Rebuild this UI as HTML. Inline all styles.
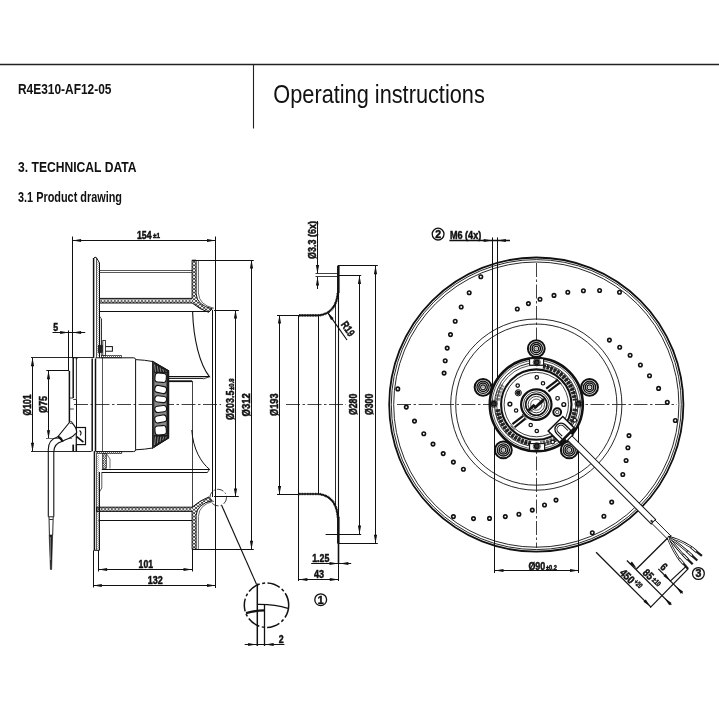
<!DOCTYPE html>
<html><head><meta charset="utf-8"><title>Operating instructions</title>
<style>
html,body{margin:0;padding:0;background:#fff;}
body{width:719px;height:719px;overflow:hidden;font-family:"Liberation Sans",sans-serif;}
svg{display:block;}
svg text{font-family:"Liberation Sans",sans-serif;fill:#111;}
svg{will-change:transform;transform:translateZ(0);}
</style></head><body>
<svg width="719" height="719" viewBox="0 0 719 719">
<defs>
<pattern id="hx" width="3.4" height="4.6" patternUnits="userSpaceOnUse" patternTransform="translate(99.5,298.4)">
<path d="M0,0 L3.4,4.6 M3.4,0 L0,4.6" stroke="#111" stroke-width="0.75"/>
</pattern>
<pattern id="hx2" width="3.4" height="4.1" patternUnits="userSpaceOnUse" patternTransform="translate(96.6,507.2)">
<path d="M0,0 L3.4,4.1 M3.4,0 L0,4.1" stroke="#111" stroke-width="0.75"/>
</pattern>
<pattern id="hv" width="4" height="3.4" patternUnits="userSpaceOnUse" patternTransform="translate(192.1,260.2)">
<path d="M0,0 L4,3.4 M4,0 L0,3.4" stroke="#111" stroke-width="0.75"/>
</pattern>
<pattern id="hv2" width="4" height="3.4" patternUnits="userSpaceOnUse" patternTransform="translate(192.1,511.4)">
<path d="M0,0 L4,3.4 M4,0 L0,3.4" stroke="#111" stroke-width="0.75"/>
</pattern>
<pattern id="hs" width="2.4" height="2.4" patternUnits="userSpaceOnUse">
<path d="M0,0 L2.4,2.4 M2.4,0 L0,2.4" stroke="#111" stroke-width="0.6"/>
</pattern>
<pattern id="hd" width="2" height="2" patternUnits="userSpaceOnUse">
<path d="M0,2 L2,0" stroke="#111" stroke-width="0.6"/>
</pattern>
</defs>
<rect width="719" height="719" fill="#fff"/>
<line x1="0" y1="64.5" x2="719" y2="64.5" stroke="#222" stroke-width="1.3" />
<line x1="253.5" y1="64.6" x2="253.5" y2="128.5" stroke="#222" stroke-width="1.1" />
<text transform="translate(18,93.8)" font-size="14" font-weight="bold" text-anchor="start" textLength="93.5" lengthAdjust="spacingAndGlyphs" >R4E310-AF12-05</text>
<text transform="translate(273.3,103)" font-size="26.5" font-weight="normal" text-anchor="start" textLength="211.5" lengthAdjust="spacingAndGlyphs" >Operating instructions</text>
<text transform="translate(18,172.1)" font-size="15" font-weight="bold" text-anchor="start" textLength="118.5" lengthAdjust="spacingAndGlyphs" >3. TECHNICAL DATA</text>
<text transform="translate(18,202.1)" font-size="13.8" font-weight="bold" text-anchor="start" textLength="104" lengthAdjust="spacingAndGlyphs" >3.1 Product drawing</text>
<line x1="72.5" y1="236.5" x2="72.5" y2="358" stroke="#111" stroke-width="1.0" />
<line x1="215.5" y1="236.5" x2="215.5" y2="588" stroke="#111" stroke-width="1.0" />
<line x1="72.6" y1="240.5" x2="215.5" y2="240.5" stroke="#111" stroke-width="1.0" />
<polygon points="72.6,240.5 81.1,238.9 81.1,242.1" fill="#111"/>
<polygon points="215.5,240.5 207,242.1 207,238.9" fill="#111"/>
<text transform="translate(136.9,238.5)" font-size="11" font-weight="bold" text-anchor="start" textLength="14.6" lengthAdjust="spacingAndGlyphs" stroke="#111" stroke-width="0.5" >154</text>
<text transform="translate(153,238.4)" font-size="7.5" font-weight="bold" text-anchor="start" textLength="7" lengthAdjust="spacingAndGlyphs" stroke="#111" stroke-width="0.5" >±1</text>
<line x1="52.5" y1="332.5" x2="85.2" y2="332.5" stroke="#111" stroke-width="1.0" />
<line x1="68.5" y1="330.4" x2="68.5" y2="371" stroke="#111" stroke-width="1.0" />
<polygon points="68.6,332.5 60.1,334.1 60.1,330.9" fill="#111"/>
<polygon points="72.6,332.5 81.1,330.9 81.1,334.1" fill="#111"/>
<text transform="translate(53.3,331.3)" font-size="11" font-weight="bold" text-anchor="start" textLength="4.9" lengthAdjust="spacingAndGlyphs" stroke="#111" stroke-width="0.5" >5</text>
<line x1="31" y1="357.5" x2="93.5" y2="357.5" stroke="#111" stroke-width="0.9" />
<line x1="31" y1="451.5" x2="91.5" y2="451.5" stroke="#111" stroke-width="0.9" />
<line x1="32.5" y1="357.8" x2="32.5" y2="451.2" stroke="#111" stroke-width="1.0" />
<polygon points="32.5,357.8 34.1,366.3 30.9,366.3" fill="#111"/>
<polygon points="32.5,451.2 30.9,442.7 34.1,442.7" fill="#111"/>
<text transform="translate(30.9,415.5) rotate(-90)" font-size="11" font-weight="bold" text-anchor="start" textLength="21" lengthAdjust="spacingAndGlyphs" stroke="#111" stroke-width="0.5" >Ø101</text>
<line x1="46.3" y1="370.5" x2="68.6" y2="370.5" stroke="#111" stroke-width="1.0" />
<line x1="46.3" y1="438.5" x2="57.9" y2="438.5" stroke="#111" stroke-width="1.0" />
<line x1="48.5" y1="370.8" x2="48.5" y2="438.8" stroke="#111" stroke-width="1.0" />
<polygon points="48.5,370.8 50.1,379.3 46.9,379.3" fill="#111"/>
<polygon points="48.5,438.8 46.9,430.3 50.1,430.3" fill="#111"/>
<text transform="translate(46.8,413.1) rotate(-90)" font-size="11" font-weight="bold" text-anchor="start" textLength="17.3" lengthAdjust="spacingAndGlyphs" stroke="#111" stroke-width="0.5" >Ø75</text>
<line x1="74" y1="404.5" x2="221" y2="404.5" stroke="#111" stroke-width="0.8" stroke-dasharray="14 2.5 2.5 2.5"/>
<path d="M93.75,357.8 L93.75,258.2 L95,257.2 L96.4,257.6 L99.5,263 L99.5,357" stroke="#111" stroke-width="1.0" fill="none" />
<line x1="93.5" y1="258" x2="93.5" y2="357.8" stroke="#111" stroke-width="1.3" />
<line x1="96.5" y1="258" x2="96.5" y2="357.8" stroke="#111" stroke-width="0.7" />
<line x1="99.5" y1="263" x2="99.5" y2="357.8" stroke="#111" stroke-width="0.9" />
<path d="M99.5,316 L101.3,318.8 L101.3,355.5" stroke="#111" stroke-width="0.7" fill="none" />
<rect x="96.6" y="262" width="2.6" height="94" fill="url(#hd)" opacity="0.55"/>
<path d="M94.3,451.2 L94.3,550.3 L99.3,550.3 L99.3,472" stroke="#111" stroke-width="1.0" fill="none" />
<line x1="94.5" y1="451.2" x2="94.5" y2="550.3" stroke="#111" stroke-width="1.3" />
<line x1="96.5" y1="453" x2="96.5" y2="550" stroke="#111" stroke-width="0.7" />
<line x1="99.5" y1="472" x2="99.5" y2="550.3" stroke="#111" stroke-width="0.9" />
<rect x="97" y="455" width="2.2" height="94" fill="url(#hd)" opacity="0.55"/>
<path d="M101.8,472.2 L101.8,488 L99.4,492" stroke="#111" stroke-width="0.7" fill="none" />
<line x1="99.5" y1="270.5" x2="192" y2="270.5" stroke="#111" stroke-width="0.7" />
<line x1="99.5" y1="272.5" x2="192" y2="272.5" stroke="#111" stroke-width="0.7" />
<line x1="99.5" y1="311.5" x2="208.6" y2="311.5" stroke="#111" stroke-width="1.1" />
<path d="M99.5,298.4 L192.1,298.4 L192.1,303 L99.5,303 Z" fill="url(#hx)" stroke="none"/>
<path d="M192.1,303 L192.1,260.2 L196.1,260.2 L196.1,294 Q197,305.5 212.3,308.8 L208.6,312.3 Q200,309.5 192.1,303 Z" fill="url(#hv)" stroke="none"/>
<path d="M99.5,298.4 L192.1,298.4 L192.1,260.2 L196.1,260.2 L196.1,294 Q197,305.5 212.3,308.8 L208.6,312.3 Q200,309.5 192.1,303 L99.5,303 Z" fill="none" stroke="#111" stroke-width="1.0"/>
<path d="M198.4,260.5 L198.4,293 Q199,305 214,308.3" stroke="#444" stroke-width="0.8" fill="none" />
<path d="M96.6,507.2 L192.1,507.2 L192.1,511.4 L96.6,511.4 Z" fill="url(#hx2)" stroke="none"/>
<path d="M192.1,507.2 Q200,500.4 208.6,497.1 L212.3,500.6 Q197,503.9 196.1,515.4 L196.1,549.3 L192.1,549.3 Z" fill="url(#hv2)" stroke="none"/>
<path d="M96.6,507.2 L192.1,507.2 Q200,500.4 208.6,497.1 L212.3,500.6 Q197,503.9 196.1,515.4 L196.1,549.3 L192.1,549.3 L192.1,511.4 L96.6,511.4 Z" fill="none" stroke="#111" stroke-width="1.0"/>
<path d="M198.4,549 L198.4,516.4 Q199,504.4 214,501.2" stroke="#444" stroke-width="0.8" fill="none" />
<line x1="98.6" y1="520.5" x2="192" y2="520.5" stroke="#111" stroke-width="1.0" />
<line x1="192.5" y1="381" x2="192.5" y2="507.3" stroke="#111" stroke-width="0.8" />
<line x1="192.1" y1="260.5" x2="253.8" y2="260.5" stroke="#111" stroke-width="1.0" />
<line x1="192.1" y1="549.5" x2="253.8" y2="549.5" stroke="#111" stroke-width="1.0" />
<line x1="251.5" y1="260" x2="251.5" y2="549.3" stroke="#111" stroke-width="1.0" />
<polygon points="251.5,260 253.1,268.5 249.9,268.5" fill="#111"/>
<polygon points="251.5,549.3 249.9,540.8 253.1,540.8" fill="#111"/>
<text transform="translate(249.7,416.5) rotate(-90)" font-size="11" font-weight="bold" text-anchor="start" textLength="23.3" lengthAdjust="spacingAndGlyphs" stroke="#111" stroke-width="0.5" >Ø312</text>
<line x1="214" y1="310.5" x2="238.8" y2="310.5" stroke="#111" stroke-width="1.0" />
<line x1="214" y1="496.5" x2="238.8" y2="496.5" stroke="#111" stroke-width="1.0" />
<line x1="235.5" y1="310" x2="235.5" y2="497" stroke="#111" stroke-width="1.0" />
<polygon points="235.5,310 237.1,318.5 233.9,318.5" fill="#111"/>
<polygon points="235.5,497 233.9,488.5 237.1,488.5" fill="#111"/>
<text transform="translate(233.7,420) rotate(-90)" font-size="11" font-weight="bold" text-anchor="start" textLength="29.4" lengthAdjust="spacingAndGlyphs" stroke="#111" stroke-width="0.5" >Ø203.5</text>
<text transform="translate(233.6,389.9) rotate(-90)" font-size="7.5" font-weight="bold" text-anchor="start" textLength="11.4" lengthAdjust="spacingAndGlyphs" stroke="#111" stroke-width="0.5" >±0.8</text>
<line x1="212.5" y1="310" x2="212.5" y2="497" stroke="#111" stroke-width="1.0" />
<path d="M192.6,311.8 C193.5,340 200,365 209.4,376.6 L169,376.6" stroke="#111" stroke-width="1.1" fill="none" />
<line x1="169" y1="378.5" x2="203.4" y2="378.5" stroke="#111" stroke-width="0.9" />
<path d="M209.4,376.7 L203.4,379" stroke="#111" stroke-width="0.8" fill="none" />
<line x1="169" y1="381.2" x2="192.1" y2="381.2" stroke="#111" stroke-width="1.8" />
<path d="M191.8,430 C193,449 201,462.5 209.6,469.4" stroke="#111" stroke-width="1.0" fill="none" />
<path d="M209.6,469.5 L101.8,469.5" stroke="#111" stroke-width="1.1" fill="none" />
<line x1="101.8" y1="472.5" x2="207.6" y2="472.5" stroke="#111" stroke-width="1.0" />
<path d="M209.6,469.3 L207.5,472.2" stroke="#111" stroke-width="0.8" fill="none" />
<line x1="98.5" y1="550.3" x2="98.5" y2="571.5" stroke="#111" stroke-width="1.0" />
<line x1="192.5" y1="549.3" x2="192.5" y2="571.5" stroke="#111" stroke-width="1.0" />
<line x1="93.5" y1="550.3" x2="93.5" y2="587.5" stroke="#111" stroke-width="1.0" />
<line x1="98.6" y1="569.5" x2="192" y2="569.5" stroke="#111" stroke-width="1.0" />
<polygon points="98.6,569.5 107.1,567.9 107.1,571.1" fill="#111"/>
<polygon points="192,569.5 183.5,571.1 183.5,567.9" fill="#111"/>
<line x1="93.3" y1="585.5" x2="215.5" y2="585.5" stroke="#111" stroke-width="1.0" />
<polygon points="93.3,585.5 101.8,583.9 101.8,587.1" fill="#111"/>
<polygon points="215.5,585.5 207,587.1 207,583.9" fill="#111"/>
<text transform="translate(138.6,567.6)" font-size="11" font-weight="bold" text-anchor="start" textLength="14.4" lengthAdjust="spacingAndGlyphs" stroke="#111" stroke-width="0.5" >101</text>
<text transform="translate(147.8,583.6)" font-size="11" font-weight="bold" text-anchor="start" textLength="15" lengthAdjust="spacingAndGlyphs" stroke="#111" stroke-width="0.5" >132</text>
<path d="M72.6,357.8 L76.4,357.8 L76.4,399.3" stroke="#111" stroke-width="0.9" fill="none" />
<line x1="73.2" y1="357.8" x2="73.2" y2="398" stroke="#111" stroke-width="1.5" />
<line x1="69.4" y1="370.8" x2="69.4" y2="422.5" stroke="#111" stroke-width="1.5" />
<path d="M69.3,398 L73.2,398 M69.3,409 L73.8,409" stroke="#111" stroke-width="0.8" fill="none" />
<path d="M76.4,359.6 Q76.4,357.8 78,357.8" stroke="#111" stroke-width="0.8" fill="none" />
<line x1="76.4" y1="399.5" x2="73.2" y2="399.5" stroke="#111" stroke-width="0.8" />
<line x1="92.2" y1="358.5" x2="92.2" y2="451.2" stroke="#111" stroke-width="1.5" />
<line x1="95.5" y1="358.5" x2="95.5" y2="451.2" stroke="#111" stroke-width="1.5" />
<line x1="76.5" y1="444.5" x2="76.5" y2="451.2" stroke="#111" stroke-width="0.9" />
<path d="M95.5,357.8 L133.5,357.8 Q135.6,357.8 135.6,359.5 L135.6,449.8 Q135.6,451.6 133.5,451.6 L95.5,451.6" stroke="#111" stroke-width="1.0" fill="none" />
<line x1="102.5" y1="357.8" x2="102.5" y2="451.6" stroke="#111" stroke-width="0.7" />
<path d="M135.5,359.6 Q145,360 152.6,361.5 L168.6,370.7 L168.6,438 L152.6,448 Q145,449.4 135.5,449.8" stroke="#111" stroke-width="1.0" fill="none" />
<path d="M152.6,361.5 L168.6,370.7 L168.6,438 L152.6,448 Z" fill="#8a8a8a" stroke="#111" stroke-width="1.1"/>
<path d="M152.6,361.5 L168.6,370.7 L168.6,373.2 L152.6,373.2 Z" fill="#1c1c1c"/>
<path d="M152.6,448 L168.6,438 L168.6,435 L152.6,435 Z" fill="#1c1c1c"/>
<rect x="152.6" y="361.5" width="1.8" height="86.5" fill="#333"/>
<rect x="166.5" y="370.7" width="2.1" height="67.3" fill="#1c1c1c"/>
<rect x="155" y="373.2" width="11.3" height="9.0" rx="3" ry="3" fill="#fff" stroke="#111" stroke-width="1.1" transform="rotate(5 160.65 377.7)"/>
<rect x="154.8" y="386" width="11.7" height="7.0" rx="3" ry="3" fill="#fff" stroke="#111" stroke-width="1.1" transform="rotate(11 160.65 389.5)"/>
<rect x="154.8" y="396.1" width="11.8" height="6.2" rx="3" ry="3" fill="#fff" stroke="#111" stroke-width="1.1" transform="rotate(7 160.7 399.2)"/>
<rect x="154.8" y="405.9" width="11.8" height="6.2" rx="3" ry="3" fill="#fff" stroke="#111" stroke-width="1.1" transform="rotate(-7 160.7 409.0)"/>
<rect x="154.8" y="415.4" width="11.7" height="7.0" rx="3" ry="3" fill="#fff" stroke="#111" stroke-width="1.1" transform="rotate(-11 160.65 418.9)"/>
<rect x="155" y="425.8" width="11.3" height="9.0" rx="3" ry="3" fill="#fff" stroke="#111" stroke-width="1.1" transform="rotate(-5 160.65 430.3)"/>
<line x1="154.6" y1="364.4" x2="155.5" y2="371.8" stroke="#e8e8e8" stroke-width="0.55" />
<line x1="154.6" y1="445" x2="155.5" y2="436.6" stroke="#e8e8e8" stroke-width="0.55" />
<line x1="157.3" y1="365.95" x2="158.2" y2="371.8" stroke="#e8e8e8" stroke-width="0.55" />
<line x1="157.3" y1="443.4" x2="158.2" y2="436.6" stroke="#e8e8e8" stroke-width="0.55" />
<line x1="160" y1="367.5" x2="160.9" y2="371.8" stroke="#e8e8e8" stroke-width="0.55" />
<line x1="160" y1="441.8" x2="160.9" y2="436.6" stroke="#e8e8e8" stroke-width="0.55" />
<line x1="162.7" y1="369.05" x2="163.6" y2="371.8" stroke="#e8e8e8" stroke-width="0.55" />
<line x1="162.7" y1="440.2" x2="163.6" y2="436.6" stroke="#e8e8e8" stroke-width="0.55" />
<line x1="165.4" y1="370.6" x2="166.3" y2="371.8" stroke="#e8e8e8" stroke-width="0.55" />
<line x1="165.4" y1="438.6" x2="166.3" y2="436.6" stroke="#e8e8e8" stroke-width="0.55" />
<rect x="101.3" y="355.4" width="20.2" height="2.4" fill="url(#hd)" stroke="#111" stroke-width="0.6"/>
<rect x="97" y="451.4" width="24.8" height="2.3" fill="url(#hd)" stroke="#111" stroke-width="0.6"/>
<rect x="102.3" y="453.7" width="4.2" height="14.6" fill="url(#hs)" stroke="#111" stroke-width="0.6"/>
<path d="M106.5,453.7 L110,459 L110,468.5" stroke="#111" stroke-width="0.6" fill="none" />
<rect x="99.2" y="346.6" width="13.2" height="4.6" fill="#fff" stroke="#111" stroke-width="1"/>
<rect x="98.2" y="345.2" width="4.2" height="7.4" fill="#222" stroke="#111" stroke-width="0.6"/>
<rect x="102.8" y="340.5" width="2.6" height="15" fill="#fff" stroke="#111" stroke-width="0.8"/>
<line x1="101.5" y1="318.8" x2="101.5" y2="345" stroke="#111" stroke-width="0.7" />
<rect x="76.3" y="427.5" width="9.2" height="17.1" fill="#fff" stroke="#111" stroke-width="1.2"/>
<path d="M76.7,436.7 L83.4,442.1" stroke="#111" stroke-width="1.7" fill="none" />
<path d="M79.6,430.5 Q82.2,432.5 80.2,435.4" stroke="#111" stroke-width="1.1" fill="none" />
<line x1="73.2" y1="444.6" x2="73.2" y2="451.2" stroke="#111" stroke-width="1.7" />
<line x1="76.3" y1="444.6" x2="76.3" y2="451.2" stroke="#111" stroke-width="1.5" />
<line x1="76.5" y1="399.3" x2="76.5" y2="427.5" stroke="#111" stroke-width="1.0" />
<line x1="46.3" y1="438.5" x2="72" y2="438.5" stroke="#777" stroke-width="0.9" />
<path d="M69.4,422.5 L71.6,422.5 Q76.5,427 76.7,432.6 Q73,437 68,438.8 Q64.5,440 62.5,441.3 L57.9,436.7 Z" stroke="#111" stroke-width="1.1" fill="#fff" />
<circle cx="70.8" cy="422.4" r="1.1" stroke="#111" stroke-width="0.8" fill="#fff" />
<path d="M57.9,436.7 Q48.3,439.5 48.3,449.5 L48.3,516.8" stroke="#111" stroke-width="1.1" fill="none" />
<path d="M62.5,441.3 Q53.8,443.5 53.8,452 L53.8,516.8" stroke="#111" stroke-width="1.1" fill="none" />
<path d="M57.9,436.7 Q61.5,437.6 62.5,441.8" stroke="#111" stroke-width="2.0" fill="none" />
<path d="M48.3,516.8 L53.8,516.8 M49,516.8 L49.4,535 M53.2,516.8 L52.7,535 M49.3,519.5 L52.8,519.5" stroke="#111" stroke-width="0.9" fill="none" />
<path d="M49.2,535 L52.6,535 L51.6,569.5 L50.4,569.5 Z" fill="#222" stroke="#111" stroke-width="0.6"/>
<line x1="50.5" y1="537" x2="50.5" y2="560" stroke="#bbb" stroke-width="0.5" />
<circle cx="218.2" cy="497.6" r="8.3" stroke="#111" stroke-width="0.8" fill="none" stroke-dasharray="7 2 1.5 2"/>
<line x1="221.6" y1="505.2" x2="256.4" y2="584" stroke="#111" stroke-width="1.15" />
<circle cx="266.5" cy="605.2" r="22.2" stroke="#111" stroke-width="1.5" fill="none" stroke-dasharray="13 2.5 3 2.5"/>
<line x1="257.3" y1="583.6" x2="257.3" y2="646" stroke="#111" stroke-width="1.5" />
<line x1="264.5" y1="604.9" x2="264.5" y2="646" stroke="#111" stroke-width="1.3" />
<path d="M246.1,613.2 Q255,610.6 264.2,610.4" stroke="#111" stroke-width="2.4" fill="none" />
<path d="M257.3,604.3 Q275,604 287.9,608.4" stroke="#111" stroke-width="1.2" fill="none" />
<line x1="244.7" y1="644.5" x2="284.4" y2="644.5" stroke="#111" stroke-width="1.0" />
<polygon points="256.6,644.5 248.1,646.1 248.1,642.9" fill="#111"/>
<polygon points="265.2,644.5 273.7,642.9 273.7,646.1" fill="#111"/>
<text transform="translate(278.8,642.5)" font-size="11" font-weight="bold" text-anchor="start" textLength="4.9" lengthAdjust="spacingAndGlyphs" stroke="#111" stroke-width="0.5" >2</text>
<line x1="286" y1="404.5" x2="346" y2="404.5" stroke="#111" stroke-width="0.8" stroke-dasharray="14 2.5 2.5 2.5"/>
<line x1="277" y1="315.5" x2="299" y2="315.5" stroke="#111" stroke-width="1.0" />
<line x1="277" y1="494.5" x2="299" y2="494.5" stroke="#111" stroke-width="1.0" />
<line x1="279.5" y1="315" x2="279.5" y2="494.5" stroke="#111" stroke-width="1.0" />
<polygon points="279.5,315 281.1,323.5 277.9,323.5" fill="#111"/>
<polygon points="279.5,494.5 277.9,486 281.1,486" fill="#111"/>
<text transform="translate(277.8,415.9) rotate(-90)" font-size="11" font-weight="bold" text-anchor="start" textLength="22.5" lengthAdjust="spacingAndGlyphs" stroke="#111" stroke-width="0.5" >Ø193</text>
<path d="M299,315.4 L319,315.4 Q336.5,313 337.9,292 L337.9,265.8" stroke="#111" stroke-width="1.6" fill="none" />
<path d="M299,494 L319,494 Q336.5,496.4 337.9,517.8 L337.9,543.4" stroke="#111" stroke-width="1.6" fill="none" />
<path d="M299,315.4 L319,315.4 Q336.5,313 337.9,292" stroke="#111" stroke-width="2.6" fill="none" stroke-dasharray="0.7 0.9"/>
<path d="M299,494 L319,494 Q336.5,496.4 337.9,517.8" stroke="#111" stroke-width="2.6" fill="none" stroke-dasharray="0.7 0.9"/>
<line x1="298.5" y1="315.4" x2="298.5" y2="581" stroke="#111" stroke-width="1.0" />
<line x1="318.5" y1="315.4" x2="318.5" y2="494" stroke="#111" stroke-width="1.0" />
<line x1="338.5" y1="265.8" x2="338.5" y2="293" stroke="#111" stroke-width="2.2" />
<line x1="338.5" y1="516.5" x2="338.5" y2="543.2" stroke="#111" stroke-width="2.2" />
<line x1="338.5" y1="543" x2="338.5" y2="563.5" stroke="#111" stroke-width="1.6" />
<line x1="338.5" y1="293" x2="338.5" y2="516.5" stroke="#111" stroke-width="1.1" />
<line x1="335.5" y1="304" x2="335.5" y2="505" stroke="#111" stroke-width="0.9" />
<line x1="338.5" y1="543.4" x2="338.5" y2="581" stroke="#111" stroke-width="1.0" />
<line x1="338" y1="265.5" x2="377.8" y2="265.5" stroke="#111" stroke-width="1.0" />
<line x1="338" y1="543.5" x2="377.8" y2="543.5" stroke="#111" stroke-width="1.0" />
<line x1="375.5" y1="265.8" x2="375.5" y2="543.2" stroke="#111" stroke-width="1.0" />
<polygon points="375.5,265.8 377.1,274.3 373.9,274.3" fill="#111"/>
<polygon points="375.5,543.2 373.9,534.7 377.1,534.7" fill="#111"/>
<text transform="translate(373.4,415) rotate(-90)" font-size="11" font-weight="bold" text-anchor="start" textLength="21.3" lengthAdjust="spacingAndGlyphs" stroke="#111" stroke-width="0.5" >Ø300</text>
<line x1="338" y1="275.5" x2="361.2" y2="275.5" stroke="#111" stroke-width="1.0" />
<line x1="325.6" y1="534.5" x2="361.2" y2="534.5" stroke="#111" stroke-width="1.0" />
<line x1="359.5" y1="275.4" x2="359.5" y2="534" stroke="#111" stroke-width="1.0" />
<polygon points="359.5,275.4 361.1,283.9 357.9,283.9" fill="#111"/>
<polygon points="359.5,534 357.9,525.5 361.1,525.5" fill="#111"/>
<text transform="translate(357.4,415) rotate(-90)" font-size="11" font-weight="bold" text-anchor="start" textLength="21.3" lengthAdjust="spacingAndGlyphs" stroke="#111" stroke-width="0.5" >Ø280</text>
<line x1="315.5" y1="273.5" x2="338" y2="273.5" stroke="#111" stroke-width="0.8" />
<line x1="315.5" y1="276.5" x2="338" y2="276.5" stroke="#111" stroke-width="0.8" />
<line x1="317.5" y1="221" x2="317.5" y2="273.4" stroke="#111" stroke-width="1.0" />
<polygon points="317.5,273.4 315.9,264.9 319.1,264.9" fill="#111"/>
<line x1="317.5" y1="277" x2="317.5" y2="289" stroke="#111" stroke-width="1.0" />
<polygon points="317.5,277 319.1,285.5 315.9,285.5" fill="#111"/>
<text transform="translate(315.9,258.9) rotate(-90)" font-size="11" font-weight="bold" text-anchor="start" textLength="37.8" lengthAdjust="spacingAndGlyphs" stroke="#111" stroke-width="0.5" >Ø3.3 (6x)</text>
<line x1="327.4" y1="312.2" x2="347" y2="340" stroke="#111" stroke-width="1.2" />
<polygon points="327.4,312.2 333.61,318.22 330.99,320.07" fill="#111"/>
<text transform="translate(340.4,324.6) rotate(55)" font-size="11" font-weight="bold" text-anchor="start" textLength="15.5" lengthAdjust="spacingAndGlyphs" stroke="#111" stroke-width="0.5" >R19</text>
<line x1="311.2" y1="563.5" x2="351.2" y2="563.5" stroke="#111" stroke-width="1.0" />
<polygon points="338,563.5 329.5,565.1 329.5,561.9" fill="#111"/>
<polygon points="339.9,563.5 348.4,561.9 348.4,565.1" fill="#111"/>
<text transform="translate(312.2,561.6)" font-size="11" font-weight="bold" text-anchor="start" textLength="17.2" lengthAdjust="spacingAndGlyphs" stroke="#111" stroke-width="0.5" >1.25</text>
<line x1="298.9" y1="579.5" x2="338.3" y2="579.5" stroke="#111" stroke-width="1.0" />
<polygon points="298.9,579.5 307.4,577.9 307.4,581.1" fill="#111"/>
<polygon points="338.3,579.5 329.8,581.1 329.8,577.9" fill="#111"/>
<text transform="translate(313.9,577.7)" font-size="11" font-weight="bold" text-anchor="start" textLength="10" lengthAdjust="spacingAndGlyphs" stroke="#111" stroke-width="0.5" >43</text>
<circle cx="320.7" cy="599.7" r="5.9" stroke="#111" stroke-width="1.3" fill="none" />
<text transform="translate(320.7,603.5)" font-size="10.5" font-weight="bold" text-anchor="middle" stroke="#111" stroke-width="0.5" >1</text>
<circle cx="536.3" cy="404.6" r="147.1" stroke="#111" stroke-width="1.8" fill="none" />
<circle cx="536.3" cy="404.6" r="145" stroke="#111" stroke-width="0.9" fill="none" />
<circle cx="536.3" cy="404.6" r="142.6" stroke="#111" stroke-width="0.9" fill="none" />
<circle cx="536.3" cy="404.6" r="85.6" stroke="#111" stroke-width="0.9" fill="none" />
<circle cx="536.3" cy="404.6" r="80.6" stroke="#111" stroke-width="0.9" fill="none" />
<line x1="397" y1="404.5" x2="677" y2="404.5" stroke="#111" stroke-width="0.8" stroke-dasharray="14 2.5 2.5 2.5"/>
<line x1="536.5" y1="263" x2="536.5" y2="548" stroke="#111" stroke-width="0.8" stroke-dasharray="14 2.5 2.5 2.5"/>
<line x1="492.5" y1="237.4" x2="492.5" y2="404" stroke="#111" stroke-width="1.0" />
<line x1="497.5" y1="237.4" x2="497.5" y2="404" stroke="#111" stroke-width="1.0" />
<line x1="449.4" y1="240.5" x2="510" y2="240.5" stroke="#111" stroke-width="1.3" />
<polygon points="492.2,240.5 483.7,242.1 483.7,238.9" fill="#111"/>
<polygon points="497.4,240.5 505.9,238.9 505.9,242.1" fill="#111"/>
<text transform="translate(450,238.8)" font-size="11" font-weight="bold" text-anchor="start" textLength="31.2" lengthAdjust="spacingAndGlyphs" stroke="#111" stroke-width="0.5" >M6 (4x)</text>
<circle cx="438.1" cy="234.1" r="5.9" stroke="#111" stroke-width="1.3" fill="none" />
<text transform="translate(438.1,237.9)" font-size="10.5" font-weight="bold" text-anchor="middle" stroke="#111" stroke-width="0.5" >2</text>
<line x1="494.5" y1="404" x2="494.5" y2="573" stroke="#111" stroke-width="1.0" />
<line x1="578.5" y1="421" x2="578.5" y2="573" stroke="#111" stroke-width="1.0" />
<line x1="495" y1="570.5" x2="578.5" y2="570.5" stroke="#111" stroke-width="1.0" />
<polygon points="495,570.5 503.5,568.9 503.5,572.1" fill="#111"/>
<polygon points="578.5,570.5 570,572.1 570,568.9" fill="#111"/>
<text transform="translate(528.4,569.5)" font-size="11" font-weight="bold" text-anchor="start" textLength="16.8" lengthAdjust="spacingAndGlyphs" stroke="#111" stroke-width="0.5" >Ø90</text>
<text transform="translate(545.9,569.5)" font-size="7.5" font-weight="bold" text-anchor="start" textLength="11" lengthAdjust="spacingAndGlyphs" stroke="#111" stroke-width="0.5" >±0.2</text>
<circle cx="480.8" cy="276.7" r="1.75" stroke="#111" stroke-width="1.6" fill="#fff" />
<circle cx="469.2" cy="292.7" r="1.75" stroke="#111" stroke-width="1.6" fill="#fff" />
<circle cx="461.2" cy="307" r="1.75" stroke="#111" stroke-width="1.6" fill="#fff" />
<circle cx="455.2" cy="321.2" r="1.75" stroke="#111" stroke-width="1.6" fill="#fff" />
<circle cx="450.5" cy="334.6" r="1.75" stroke="#111" stroke-width="1.6" fill="#fff" />
<circle cx="447.2" cy="348.1" r="1.75" stroke="#111" stroke-width="1.6" fill="#fff" />
<circle cx="445.2" cy="360.8" r="1.75" stroke="#111" stroke-width="1.6" fill="#fff" />
<circle cx="444.1" cy="373.1" r="1.75" stroke="#111" stroke-width="1.6" fill="#fff" />
<circle cx="397.8" cy="388.9" r="1.75" stroke="#111" stroke-width="1.6" fill="#fff" />
<circle cx="406.3" cy="407.1" r="1.75" stroke="#111" stroke-width="1.6" fill="#fff" />
<circle cx="517.3" cy="309" r="1.75" stroke="#111" stroke-width="1.6" fill="#fff" />
<circle cx="528.4" cy="303.6" r="1.75" stroke="#111" stroke-width="1.6" fill="#fff" />
<circle cx="540" cy="299.2" r="1.75" stroke="#111" stroke-width="1.6" fill="#fff" />
<circle cx="554" cy="295.4" r="1.75" stroke="#111" stroke-width="1.6" fill="#fff" />
<circle cx="567.8" cy="292.3" r="1.75" stroke="#111" stroke-width="1.6" fill="#fff" />
<circle cx="583.4" cy="290.7" r="1.75" stroke="#111" stroke-width="1.6" fill="#fff" />
<circle cx="599.6" cy="290.5" r="1.75" stroke="#111" stroke-width="1.6" fill="#fff" />
<circle cx="619.5" cy="292.3" r="1.75" stroke="#111" stroke-width="1.6" fill="#fff" />
<circle cx="609.4" cy="340.1" r="1.75" stroke="#111" stroke-width="1.6" fill="#fff" />
<circle cx="619.7" cy="347.2" r="1.75" stroke="#111" stroke-width="1.6" fill="#fff" />
<circle cx="630.1" cy="355.3" r="1.75" stroke="#111" stroke-width="1.6" fill="#fff" />
<circle cx="640.4" cy="365" r="1.75" stroke="#111" stroke-width="1.6" fill="#fff" />
<circle cx="649.5" cy="375.7" r="1.75" stroke="#111" stroke-width="1.6" fill="#fff" />
<circle cx="658.6" cy="388.4" r="1.75" stroke="#111" stroke-width="1.6" fill="#fff" />
<circle cx="667.3" cy="402.3" r="1.75" stroke="#111" stroke-width="1.6" fill="#fff" />
<circle cx="414.5" cy="421.1" r="1.75" stroke="#111" stroke-width="1.6" fill="#fff" />
<circle cx="423.8" cy="433.8" r="1.75" stroke="#111" stroke-width="1.6" fill="#fff" />
<circle cx="433" cy="444.1" r="1.75" stroke="#111" stroke-width="1.6" fill="#fff" />
<circle cx="443.2" cy="453.6" r="1.75" stroke="#111" stroke-width="1.6" fill="#fff" />
<circle cx="453.4" cy="462.1" r="1.75" stroke="#111" stroke-width="1.6" fill="#fff" />
<circle cx="463.4" cy="469.2" r="1.75" stroke="#111" stroke-width="1.6" fill="#fff" />
<circle cx="453.4" cy="516.6" r="1.75" stroke="#111" stroke-width="1.6" fill="#fff" />
<circle cx="473.5" cy="518.6" r="1.75" stroke="#111" stroke-width="1.6" fill="#fff" />
<circle cx="489.5" cy="518.4" r="1.75" stroke="#111" stroke-width="1.6" fill="#fff" />
<circle cx="505.3" cy="516.6" r="1.75" stroke="#111" stroke-width="1.6" fill="#fff" />
<circle cx="518.9" cy="514.2" r="1.75" stroke="#111" stroke-width="1.6" fill="#fff" />
<circle cx="532.3" cy="510.1" r="1.75" stroke="#111" stroke-width="1.6" fill="#fff" />
<circle cx="544.5" cy="505" r="1.75" stroke="#111" stroke-width="1.6" fill="#fff" />
<circle cx="556" cy="500.1" r="1.75" stroke="#111" stroke-width="1.6" fill="#fff" />
<circle cx="675.3" cy="420.5" r="1.75" stroke="#111" stroke-width="1.6" fill="#fff" />
<circle cx="629" cy="435.6" r="1.75" stroke="#111" stroke-width="1.6" fill="#fff" />
<circle cx="627.9" cy="447.8" r="1.75" stroke="#111" stroke-width="1.6" fill="#fff" />
<circle cx="626.1" cy="460.5" r="1.75" stroke="#111" stroke-width="1.6" fill="#fff" />
<circle cx="622.8" cy="474.5" r="1.75" stroke="#111" stroke-width="1.6" fill="#fff" />
<circle cx="611.7" cy="502.1" r="1.75" stroke="#111" stroke-width="1.6" fill="#fff" />
<circle cx="603.9" cy="516.2" r="1.75" stroke="#111" stroke-width="1.6" fill="#fff" />
<circle cx="592.3" cy="532.8" r="1.75" stroke="#111" stroke-width="1.6" fill="#fff" />
<circle cx="536.3" cy="404.6" r="46.5" stroke="#111" stroke-width="2.6" fill="#fff" />
<circle cx="536.3" cy="404.6" r="44.3" stroke="#111" stroke-width="0.7" fill="none" />
<circle cx="536.3" cy="404.6" r="41.8" stroke="#111" stroke-width="0.9" fill="none" />
<circle cx="536.3" cy="404.6" r="35.2" stroke="#111" stroke-width="2.1" fill="none" />
<circle cx="536.3" cy="404.6" r="32.2" stroke="#111" stroke-width="0.8" fill="none" />
<circle cx="536.3" cy="404.6" r="39.6" stroke="#111" stroke-width="0.7" fill="none" />
<path d="M543.05,366.29 A38.9,38.9 0 0 1 574.99,400.53" stroke="#1a1a1a" stroke-width="4.6" fill="none" stroke-dasharray="2.8 0.9" opacity="0.95"/>
<path d="M574.99,408.67 A38.9,38.9 0 0 1 569.99,424.05" stroke="#1a1a1a" stroke-width="4.6" fill="none" stroke-dasharray="2.8 0.9" opacity="0.9"/>
<path d="M530.89,443.12 A38.9,38.9 0 0 1 497.61,408.67" stroke="#1a1a1a" stroke-width="4.6" fill="none" stroke-dasharray="2.8 0.9" opacity="0.95"/>
<path d="M555.75,438.29 A38.9,38.9 0 0 1 540.37,443.29" stroke="#1a1a1a" stroke-width="4.6" fill="none" stroke-dasharray="2.8 0.9" opacity="0.7"/>
<path d="M497.61,400.53 A38.9,38.9 0 0 1 502.61,385.15" stroke="#1a1a1a" stroke-width="4.6" fill="none" stroke-dasharray="2.8 0.9" opacity="0.5"/>
<circle cx="536.3" cy="404.6" r="15.2" stroke="#111" stroke-width="2.2" fill="#fff" />
<circle cx="536.3" cy="404.6" r="12.8" stroke="#111" stroke-width="0.8" fill="none" />
<circle cx="536.3" cy="404.6" r="10.6" stroke="#111" stroke-width="1.6" fill="none" />
<circle cx="536.3" cy="404.6" r="8.2" stroke="#111" stroke-width="0.8" fill="none" />
<circle cx="536.3" cy="348.6" r="8.4" stroke="#111" stroke-width="2.0" fill="#fff" />
<circle cx="536.3" cy="348.6" r="6.1" stroke="#111" stroke-width="1.3" fill="none" />
<circle cx="536.3" cy="348.6" r="4.2" stroke="#111" stroke-width="1.5" fill="none" />
<circle cx="536.3" cy="348.6" r="2.4" stroke="#111" stroke-width="1.1" fill="none" />
<circle cx="536.3" cy="348.6" r="0.8" stroke="#111" stroke-width="0.4" fill="#fff" />
<circle cx="483.04" cy="387.3" r="8.4" stroke="#111" stroke-width="2.0" fill="#fff" />
<circle cx="483.04" cy="387.3" r="6.1" stroke="#111" stroke-width="1.3" fill="none" />
<circle cx="483.04" cy="387.3" r="4.2" stroke="#111" stroke-width="1.5" fill="none" />
<circle cx="483.04" cy="387.3" r="2.4" stroke="#111" stroke-width="1.1" fill="none" />
<circle cx="483.04" cy="387.3" r="0.8" stroke="#111" stroke-width="0.4" fill="#fff" />
<circle cx="503.38" cy="449.9" r="8.4" stroke="#111" stroke-width="2.0" fill="#fff" />
<circle cx="503.38" cy="449.9" r="6.1" stroke="#111" stroke-width="1.3" fill="none" />
<circle cx="503.38" cy="449.9" r="4.2" stroke="#111" stroke-width="1.5" fill="none" />
<circle cx="503.38" cy="449.9" r="2.4" stroke="#111" stroke-width="1.1" fill="none" />
<circle cx="503.38" cy="449.9" r="0.8" stroke="#111" stroke-width="0.4" fill="#fff" />
<circle cx="569.22" cy="449.9" r="8.4" stroke="#111" stroke-width="2.0" fill="#fff" />
<circle cx="569.22" cy="449.9" r="6.1" stroke="#111" stroke-width="1.3" fill="none" />
<circle cx="569.22" cy="449.9" r="4.2" stroke="#111" stroke-width="1.5" fill="none" />
<circle cx="569.22" cy="449.9" r="2.4" stroke="#111" stroke-width="1.1" fill="none" />
<circle cx="569.22" cy="449.9" r="0.8" stroke="#111" stroke-width="0.4" fill="#fff" />
<circle cx="589.56" cy="387.3" r="8.4" stroke="#111" stroke-width="2.0" fill="#fff" />
<circle cx="589.56" cy="387.3" r="6.1" stroke="#111" stroke-width="1.3" fill="none" />
<circle cx="589.56" cy="387.3" r="4.2" stroke="#111" stroke-width="1.5" fill="none" />
<circle cx="589.56" cy="387.3" r="2.4" stroke="#111" stroke-width="1.1" fill="none" />
<circle cx="589.56" cy="387.3" r="0.8" stroke="#111" stroke-width="0.4" fill="#fff" />
<line x1="546.2" y1="388.6" x2="557.8" y2="379.9" stroke="#111" stroke-width="2.1" />
<line x1="548.4" y1="391.4" x2="560" y2="382.7" stroke="#111" stroke-width="2.1" />
<line x1="512.4" y1="424.2" x2="523.2" y2="415.8" stroke="#111" stroke-width="2.1" />
<line x1="514.6" y1="427.2" x2="525.4" y2="418.6" stroke="#111" stroke-width="2.1" />
<path d="M544.6,390.4 L548,394.6 M556.6,378.4 L561.6,384.2 M510.6,425.6 L514.4,430 M522,414 L526.8,419.6" stroke="#111" stroke-width="0.8" fill="none" />
<circle cx="536.8" cy="377.4" r="1.7" stroke="#111" stroke-width="1.3" fill="#fff" />
<circle cx="543" cy="383.3" r="1.7" stroke="#111" stroke-width="1.2" fill="#fff" />
<circle cx="517.7" cy="385.6" r="1.7" stroke="#111" stroke-width="1.3" fill="#fff" />
<circle cx="509.9" cy="404.1" r="1.9" stroke="#111" stroke-width="1.4" fill="#fff" />
<circle cx="516.1" cy="410.5" r="1.7" stroke="#111" stroke-width="1.2" fill="#fff" />
<circle cx="557.6" cy="398.3" r="1.8" stroke="#111" stroke-width="1.2" fill="#fff" />
<circle cx="563.8" cy="404.5" r="1.9" stroke="#111" stroke-width="1.4" fill="#fff" />
<circle cx="530.7" cy="425" r="1.7" stroke="#111" stroke-width="1.2" fill="#fff" />
<circle cx="536.8" cy="431" r="1.7" stroke="#111" stroke-width="1.3" fill="#fff" />
<circle cx="574.8" cy="420.3" r="1.8" stroke="#111" stroke-width="1.2" fill="#fff" />
<circle cx="552.7" cy="442" r="1.8" stroke="#111" stroke-width="1.2" fill="#fff" />
<circle cx="518.3" cy="392.8" r="3.1" stroke="#111" stroke-width="1.0" fill="#fff" />
<circle cx="518.3" cy="392.8" r="1.6" stroke="#111" stroke-width="1.4" fill="#333" />
<circle cx="557.2" cy="412.1" r="3.9" stroke="#111" stroke-width="2.0" fill="#fff" />
<circle cx="557.2" cy="412.1" r="1.7" stroke="#111" stroke-width="0.8" fill="none" />
<rect x="529.6" y="358.6" width="14" height="6.6" fill="#fff" stroke="#111" stroke-width="1.1"/>
<rect x="529.6" y="443.6" width="15" height="6.8" fill="#fff" stroke="#111" stroke-width="1.1"/>
<circle cx="536.8" cy="362.3" r="2.3" stroke="#111" stroke-width="1.3" fill="#333" />
<circle cx="536.8" cy="362.3" r="3.6" stroke="#111" stroke-width="0.7" fill="none" />
<circle cx="493.8" cy="403.8" r="2.3" stroke="#111" stroke-width="1.3" fill="#333" />
<circle cx="493.8" cy="403.8" r="3.6" stroke="#111" stroke-width="0.7" fill="none" />
<circle cx="578.5" cy="403.8" r="2.3" stroke="#111" stroke-width="1.3" fill="#333" />
<circle cx="578.5" cy="403.8" r="3.6" stroke="#111" stroke-width="0.7" fill="none" />
<circle cx="536.8" cy="446.2" r="2.3" stroke="#111" stroke-width="1.3" fill="#333" />
<circle cx="536.8" cy="446.2" r="3.6" stroke="#111" stroke-width="0.7" fill="none" />
<path d="M528.5,410.5 L533.6,405.6 L535.6,407.2 L540.5,402.5 L544,399" stroke="#111" stroke-width="2.7" fill="none" />
<path d="M530.5,411.5 L543.8,401.6" stroke="#111" stroke-width="0.8" fill="none" />
<circle cx="536.3" cy="404.6" r="5.6" stroke="#111" stroke-width="0.7" fill="none" />
<g transform="translate(555.5,423.8) rotate(45)">
<rect x="0" y="-10.3" width="16.6" height="20.6" fill="#fff" stroke="#111" stroke-width="1.5"/>
<path d="M16.6,-6.1 L7.8,-6.1 A6.1,6.1 0 0 0 7.8,6.1 L16.6,6.1" fill="none" stroke="#111" stroke-width="1.3"/>
<path d="M13.5,-4 L7.8,-4 A4,4 0 0 0 7.8,4 L13.5,4" fill="none" stroke="#111" stroke-width="1.0"/>
<line x1="16.6" y1="-10.3" x2="16.6" y2="10.3" stroke="#111" stroke-width="2.6"/>
<rect x="17.2" y="-4.4" width="3.2" height="8.8" fill="#fff" stroke="#111" stroke-width="1.3"/>
<rect x="20.2" y="-3.1" width="118.3" height="6.2" fill="#fff" stroke="#111" stroke-width="1.0"/>
<ellipse cx="137" cy="0.9" rx="1.6" ry="1.1" fill="#333"/>
<rect x="138.5" y="-2.3" width="22.2" height="4.6" fill="#fff" stroke="#111" stroke-width="0.9"/>
<line x1="160.7" y1="-2.9" x2="160.7" y2="2.9" stroke="#111" stroke-width="1.4"/>
</g>
<path d="M667.8,536.9 Q679,539.2 690.2,546.45 L696.6,551.62" stroke="#111" stroke-width="2.3" fill="none" />
<path d="M667.8,536.9 Q679,539.2 690.2,546.45 L696.6,551.62" stroke="#fff" stroke-width="1.0" fill="none" />
<line x1="691.14" y1="547.21" x2="696.6" y2="551.62" stroke="#111" stroke-width="2.6" />
<line x1="691.6" y1="547.58" x2="696.13" y2="551.24" stroke="#fff" stroke-width="1.2" />
<line x1="696.6" y1="551.62" x2="701.9" y2="555.9" stroke="#1a1a1a" stroke-width="2.3" />
<path d="M667.8,536.9 Q676.2,541.4 686.2,550.45 L692.27,555.94" stroke="#111" stroke-width="2.3" fill="none" />
<path d="M667.8,536.9 Q676.2,541.4 686.2,550.45 L692.27,555.94" stroke="#fff" stroke-width="1.0" fill="none" />
<line x1="687.09" y1="551.25" x2="692.27" y2="555.94" stroke="#111" stroke-width="2.6" />
<line x1="687.53" y1="551.66" x2="691.82" y2="555.54" stroke="#fff" stroke-width="1.2" />
<line x1="692.27" y1="555.94" x2="697.3" y2="560.5" stroke="#1a1a1a" stroke-width="2.3" />
<path d="M667.8,536.9 Q673.4,543.6 682.05,553.65 L687.87,559.47" stroke="#111" stroke-width="2.3" fill="none" />
<path d="M667.8,536.9 Q673.4,543.6 682.05,553.65 L687.87,559.47" stroke="#fff" stroke-width="1.0" fill="none" />
<line x1="682.9" y1="554.5" x2="687.87" y2="559.47" stroke="#111" stroke-width="2.6" />
<line x1="683.33" y1="554.93" x2="687.45" y2="559.05" stroke="#fff" stroke-width="1.2" />
<line x1="687.87" y1="559.47" x2="692.7" y2="564.3" stroke="#1a1a1a" stroke-width="2.3" />
<path d="M667.8,536.9 Q670.6,545.8 678.2,557.65 L683.61,563.8" stroke="#111" stroke-width="2.3" fill="none" />
<path d="M667.8,536.9 Q670.6,545.8 678.2,557.65 L683.61,563.8" stroke="#fff" stroke-width="1.0" fill="none" />
<line x1="678.99" y1="558.55" x2="683.61" y2="563.8" stroke="#111" stroke-width="2.6" />
<line x1="679.39" y1="559" x2="683.22" y2="563.35" stroke="#fff" stroke-width="1.2" />
<line x1="683.61" y1="563.8" x2="688.1" y2="568.9" stroke="#1a1a1a" stroke-width="2.3" />
<line x1="667.4" y1="538.3" x2="636.2" y2="569.3" stroke="#111" stroke-width="1.25" />
<line x1="688.1" y1="568.9" x2="650.2" y2="607.6" stroke="#111" stroke-width="1.25" />
<line x1="685.8" y1="566.6" x2="670" y2="581.4" stroke="#111" stroke-width="1.25" />
<line x1="596.1" y1="552.2" x2="651" y2="607.1" stroke="#111" stroke-width="1.25" />
<polygon points="650.6,606.7 643.46,601.82 645.72,599.56" fill="#111"/>
<text transform="translate(619.1,573.4) rotate(45)" font-size="11" font-weight="bold" text-anchor="start" textLength="15.5" lengthAdjust="spacingAndGlyphs" stroke="#111" stroke-width="0.5" >450</text>
<text transform="translate(633.4,582.6) rotate(45)" font-size="7.5" font-weight="bold" text-anchor="start" textLength="8.5" lengthAdjust="spacingAndGlyphs" stroke="#111" stroke-width="0.5" >+20</text>
<line x1="626.9" y1="560.5" x2="671.3" y2="604.9" stroke="#111" stroke-width="1.25" />
<polygon points="636.8,568.6 629.66,563.72 631.92,561.46" fill="#111"/>
<polygon points="664.4,598 671.54,602.88 669.28,605.14" fill="#111"/>
<text transform="translate(642.1,573.4) rotate(45)" font-size="11" font-weight="bold" text-anchor="start" textLength="10" lengthAdjust="spacingAndGlyphs" stroke="#111" stroke-width="0.5" >85</text>
<text transform="translate(651.6,580.6) rotate(45)" font-size="7.5" font-weight="bold" text-anchor="start" textLength="9" lengthAdjust="spacingAndGlyphs" stroke="#111" stroke-width="0.5" >±10</text>
<line x1="658.3" y1="568.9" x2="682.7" y2="593.4" stroke="#111" stroke-width="1.25" />
<polygon points="670.5,580.9 663.36,576.02 665.62,573.76" fill="#111"/>
<polygon points="675.9,586.5 683.04,591.38 680.78,593.64" fill="#111"/>
<text transform="translate(659.4,567.7) rotate(45)" font-size="11" font-weight="bold" text-anchor="start" textLength="4.9" lengthAdjust="spacingAndGlyphs" stroke="#111" stroke-width="0.5" >6</text>
<circle cx="698.4" cy="573.5" r="5.9" stroke="#111" stroke-width="1.3" fill="none" />
<text transform="translate(698.4,577.3)" font-size="10.5" font-weight="bold" text-anchor="middle" stroke="#111" stroke-width="0.5" >3</text>
</svg>
</body></html>
